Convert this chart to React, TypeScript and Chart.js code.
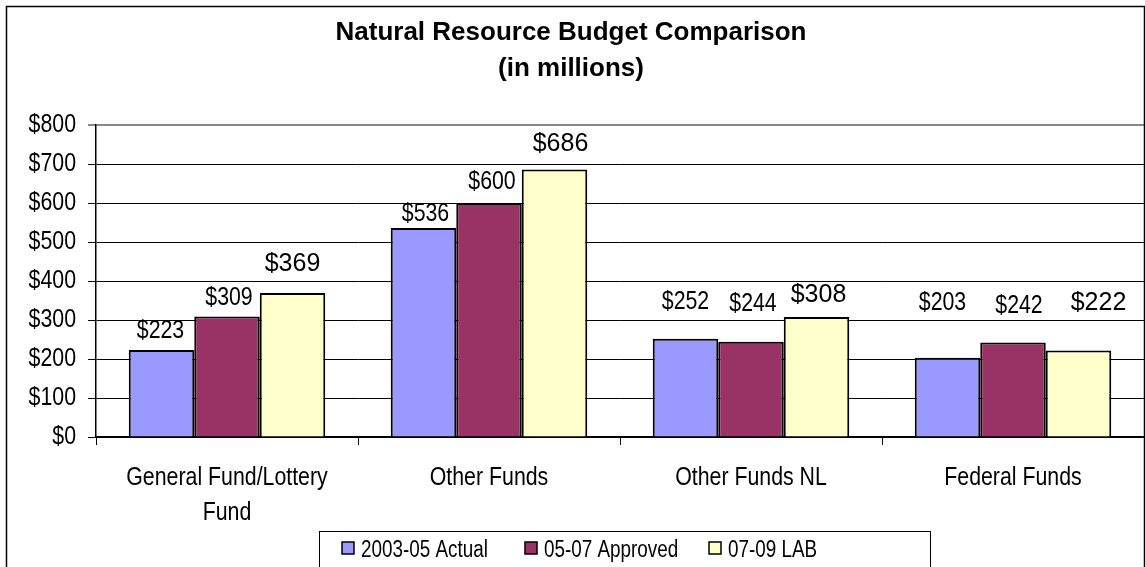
import React, { useEffect, useRef } from "react";
import { Chart, registerables } from "chart.js";

Chart.register(...registerables);

// ---------- data ----------
const categories: string[][] = [
  ["General Fund/Lottery", "Fund"],
  ["Other Funds"],
  ["Other Funds NL"],
  ["Federal Funds"],
];
const seriesNames = ["2003-05 Actual", "05-07 Approved", "07-09 LAB"];
const actual0305 = [223, 536, 252, 203];
const approved0507 = [309, 600, 244, 242];
const lab0709 = [369, 686, 308, 222];
const yMin = 0;
const yMax = 800;
const yStep = 100;
const titleLines = ["Natural Resource Budget Comparison", "(in millions)"];

// ---------- styles ----------
const COLORS = ["#9999FF", "#993366", "#FFFFCC"];
const REGULAR = "'Liberation Sans', Arial, sans-serif";
const NARROW_SCALE = 0.82;
// label nudges (dx, dy) in px relative to the top-centre of each bar
const LABEL_NUDGE: [number, number][][] = [
  [[-1, -19], [2, -14], [0, -37], [-5, -55]],
  [[2, -19], [3, -21], [2, -38], [6, -37]],
  [[0, -29], [6, -25], [2, -22], [20, -47]],
];
const LABEL_NARROW = [true, true, false];

function drawText(
  ctx: CanvasRenderingContext2D,
  text: string,
  x: number,
  y: number,
  size: number,
  align: CanvasTextAlign,
  baseline: CanvasTextBaseline,
  narrow: boolean,
  bold = false
) {
  ctx.save();
  ctx.translate(x, y);
  if (narrow) ctx.scale(NARROW_SCALE, 1);
  ctx.font = `${bold ? "bold " : ""}${size}px ${REGULAR}`;
  ctx.textAlign = align;
  ctx.textBaseline = baseline;
  ctx.fillStyle = "#000";
  ctx.fillText(text, 0, 0);
  ctx.restore();
}

const decorPlugin = {
  id: "decor",
  beforeDraw(chart: any) {
    const { ctx, width, height } = chart;
    ctx.save();
    ctx.fillStyle = "#ffffff";
    ctx.fillRect(0, 0, width, height);
    ctx.restore();
  },
  afterDraw(chart: any) {
    const { ctx } = chart;
    ctx.save();
    // outer border
    ctx.strokeStyle = "#000";
    ctx.lineWidth = 1.5;
    ctx.strokeRect(6.5, 6.5, 1138, 600);

    // title
    drawText(ctx, titleLines[0], 571, 40, 26, "center", "alphabetic", false, true);
    drawText(ctx, titleLines[1], 571, 76, 26, "center", "alphabetic", false, true);

    // y tick labels
    const ys = chart.scales.y;
    ys.ticks.forEach((t: any) => {
      drawText(ctx, "$" + t.value, 76, ys.getPixelForValue(t.value), 26, "right", "middle", true);
    });

    // x category labels
    const xs = chart.scales.x;
    categories.forEach((lines, i) => {
      const cx = xs.getPixelForValue(i);
      lines.forEach((ln, j) => {
        drawText(ctx, ln, cx, 485 + j * 35, 26, "center", "alphabetic", true);
      });
    });

    // data labels
    chart.data.datasets.forEach((ds: any, di: number) => {
      const meta = chart.getDatasetMeta(di);
      meta.data.forEach((bar: any, i: number) => {
        const [dx, dy] = LABEL_NUDGE[di][i];
        drawText(
          ctx,
          "$" + ds.data[i],
          bar.x + dx,
          bar.y + dy,
          LABEL_NARROW[di] ? 26 : 25,
          "center",
          "middle",
          LABEL_NARROW[di]
        );
      });
    });

    // legend
    ctx.lineWidth = 1;
    ctx.strokeStyle = "#000";
    ctx.strokeRect(319.5, 531.5, 611, 60);
    const itemX = [342, 525, 709];
    seriesNames.forEach((name, k) => {
      ctx.fillStyle = COLORS[k];
      ctx.fillRect(itemX[k], 542, 12, 12);
      ctx.lineWidth = 1.5;
      ctx.strokeStyle = "#000";
      ctx.strokeRect(itemX[k], 542, 12, 12);
      drawText(ctx, name, itemX[k] + 19, 557, 23, "left", "alphabetic", true);
    });
    ctx.restore();
  },
};

export default function App() {
  const ref = useRef<HTMLCanvasElement | null>(null);
  useEffect(() => {
    document.body.style.margin = "0";
    const values = [actual0305, approved0507, lab0709];
    const chart = new Chart(ref.current!, {
      type: "bar",
      data: {
        labels: categories.map((c) => c.join(" ")),
        datasets: seriesNames.map((name, k) => ({
          label: name,
          data: values[k],
          backgroundColor: COLORS[k],
          borderColor: "#000",
          borderWidth: 2,
          borderSkipped: "bottom" as any,
          categoryPercentage: 0.75,
          barPercentage: 1,
        })),
      },
      options: {
        animation: false,
        responsive: false,
        maintainAspectRatio: false,
        events: [],
        layout: { padding: { top: 125, left: 0, right: 1, bottom: 0 } },
        plugins: {
          legend: { display: false },
          title: { display: false },
          tooltip: { enabled: false },
        },
        scales: {
          x: {
            grid: {
              drawOnChartArea: false,
              drawTicks: true,
              tickLength: 8,
              color: "#000",
              offset: true,
            },
            border: { color: "#000", width: 1.5 },
            ticks: {
              color: "rgba(0,0,0,0)",
              font: { size: 12 },
              maxRotation: 0,
              autoSkip: false,
            },
            afterFit: (s: any) => {
              s.height = 130;
            },
          },
          y: {
            min: yMin,
            max: yMax,
            grid: {
              color: (c: any) => (c.tick && c.tick.value === yMax ? "#888" : "#000"),
              lineWidth: (c: any) => (c.tick && c.tick.value === yMax ? 2 : 1),
              drawTicks: true,
              tickLength: 8,
            },
            border: { color: "#000", width: 1.5 },
            ticks: {
              stepSize: yStep,
              color: "rgba(0,0,0,0)",
              font: { size: 12 },
              callback: (v: any) => "$" + v,
            },
            afterFit: (s: any) => {
              s.width = 96;
            },
          },
        },
      },
      plugins: [decorPlugin],
    });
    return () => chart.destroy();
  }, []);
  return (
    <div style={{ width: 1145, height: 567 }}>
      <canvas ref={ref} width={1145} height={567} style={{ display: "block" }} />
    </div>
  );
}
